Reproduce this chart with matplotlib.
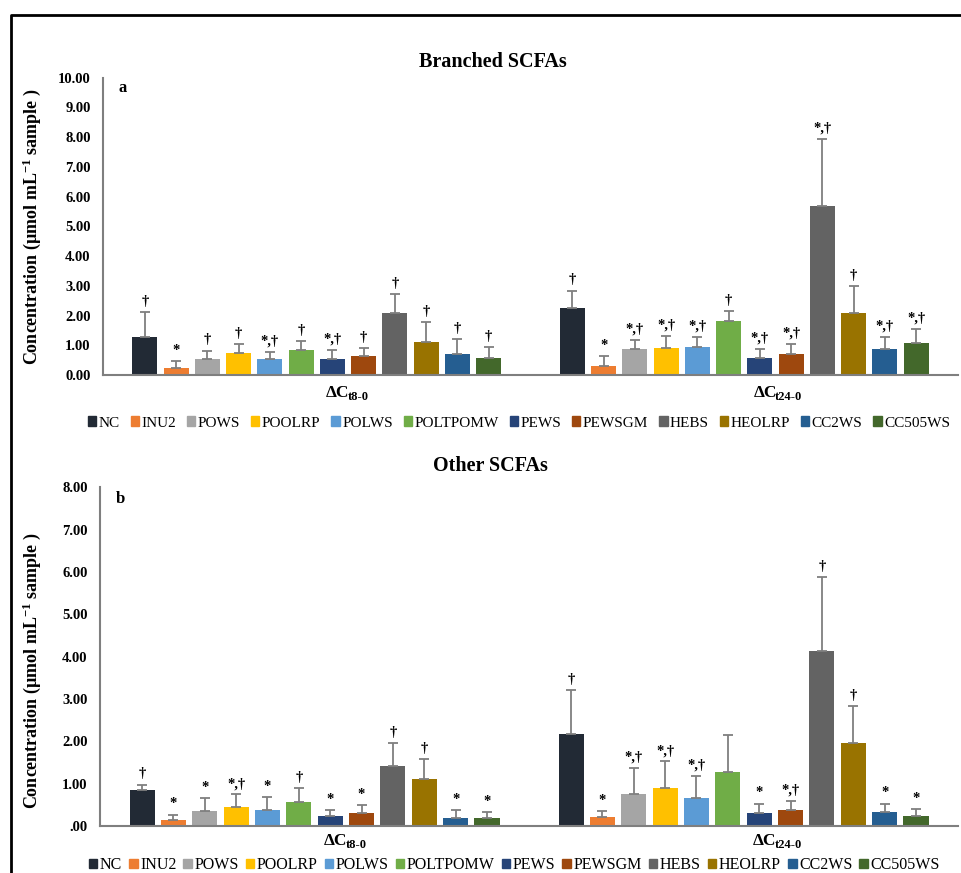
import matplotlib
matplotlib.use('Agg')
import matplotlib.pyplot as plt
from matplotlib.lines import Line2D
from matplotlib.patches import Patch
import numpy as np

plt.rcParams['font.family'] = ['Liberation Serif', 'DejaVu Serif']
plt.rcParams['mathtext.fontset'] = 'custom'
plt.rcParams['mathtext.rm'] = 'Liberation Serif'
plt.rcParams['mathtext.bf'] = 'Liberation Serif:bold'
plt.rcParams['mathtext.it'] = 'Liberation Serif:italic'

groups = ['NC', 'INU2', 'POWS', 'POOLRP', 'POLWS', 'POLTPOMW',
          'PEWS', 'PEWSGM', 'HEBS', 'HEOLRP', 'CC2WS', 'CC505WS']
colors = ['#222A35', '#ED7D31', '#A5A5A5', '#FFC000', '#5B9BD5', '#70AD47',
          '#264478', '#9E480E', '#636363', '#997300', '#255E91', '#43682B']
times = ['t8-0', 't24-0']

# panel a: branched SCFAs (mean, upper error end)
a_t8 = [1.27, 0.22, 0.53, 0.73, 0.55, 0.84, 0.53, 0.63, 2.10, 1.12, 0.71, 0.57]
a_t8_top = [2.13, 0.48, 0.82, 1.03, 0.78, 1.13, 0.84, 0.92, 2.71, 1.78, 1.21, 0.93]
a_t24 = [2.24, 0.30, 0.87, 0.90, 0.95, 1.82, 0.56, 0.71, 5.70, 2.10, 0.87, 1.09]
a_t24_top = [2.84, 0.63, 1.18, 1.31, 1.29, 2.16, 0.87, 1.05, 7.94, 2.99, 1.29, 1.56]
a_t8_sig = ['†', '*', '†', '†', '*,†', '†', '*,†', '†', '†', '†', '†', '†']
a_t24_sig = ['†', '*', '*,†', '*,†', '*,†', '†', '*,†', '*,†', '*,†', '†', '*,†', '*,†']

# panel b: other SCFAs
b_t8 = [0.84, 0.14, 0.35, 0.45, 0.38, 0.57, 0.23, 0.31, 1.41, 1.10, 0.20, 0.19]
b_t8_top = [0.98, 0.27, 0.66, 0.75, 0.68, 0.90, 0.37, 0.50, 1.95, 1.59, 0.37, 0.32]
b_t24 = [2.18, 0.22, 0.75, 0.90, 0.67, 1.27, 0.31, 0.37, 4.13, 1.95, 0.32, 0.24]
b_t24_top = [3.22, 0.36, 1.38, 1.53, 1.18, 2.14, 0.53, 0.59, 5.88, 2.84, 0.53, 0.40]
b_t8_sig = ['†', '*', '*', '*,†', '*', '†', '*', '*', '†', '†', '*', '*']
b_t24_sig = ['†', '*', '*,†', '*,†', '*,†', '', '*', '*,†', '†', '†', '*', '*']

fig = plt.figure(figsize=(9.61, 8.73), dpi=100)

slot, bw = 0.0731, 0.0585


def panel(ax, means, tops, sigs, ymax, letter, zero_lbl, cat_off, leg_fs, leg_sp, leg_x, leg_y):
    for c in range(2):
        m = np.array(means[c])
        sd = np.array(tops[c]) - m
        for i in range(12):
            x = c + (i - 5.5) * slot
            ax.bar(x, m[i], bw, color=colors[i], zorder=2)
            ax.errorbar(x, m[i], yerr=[[0], [sd[i]]], color='#7F7F7F', lw=1.3,
                        capsize=3.5, capthick=1.3, zorder=3)
            if sigs[c][i]:
                ax.annotate(sigs[c][i], (x, tops[c][i]), xytext=(0, 3),
                            textcoords='offset points', ha='center', va='bottom',
                            fontsize=10.5, fontweight='bold')
        ax.annotate('ΔC', (c + 0.077, 0), xytext=(0, -cat_off), textcoords='offset points',
                    ha='right', va='baseline', fontsize=12.5, fontweight='bold',
                    annotation_clip=False)
        ax.annotate(times[c], (c + 0.077, 0), xytext=(-1.5, -cat_off - 2.5),
                    textcoords='offset points', ha='left', va='baseline',
                    fontsize=9, fontweight='bold', annotation_clip=False)
    ax.set_xlim(-0.5, 1.5)
    ax.set_ylim(0, ymax)
    ax.set_xticks([])
    yt = np.arange(0, ymax + 0.5, 1.0)
    ax.set_yticks(yt)
    ax.set_yticklabels([zero_lbl] + ['%.2f' % v for v in yt[1:]],
                       fontweight='bold', fontsize=10.5)
    ax.tick_params(axis='y', length=0, pad=9)
    for s in ['top', 'right']:
        ax.spines[s].set_visible(False)
    for s in ['left', 'bottom']:
        ax.spines[s].set_color('#7F7F7F')
        ax.spines[s].set_linewidth(1.5)
    ax.text(0.018, 0.965, letter, transform=ax.transAxes, fontsize=12,
            fontweight='bold', va='center')
    ax.set_ylabel('Concentration (µmol mL$^{\\mathbf{-1}}$ sample )',
                  fontsize=13, fontweight='bold')
    handles = [Patch(color=colors[i], label=groups[i]) for i in range(12)]
    fig.legend(handles=handles, loc='center', bbox_to_anchor=(leg_x, leg_y), ncol=12,
               frameon=False, fontsize=leg_fs, handlelength=0.55, handleheight=0.55,
               handletextpad=0.15, columnspacing=leg_sp, borderaxespad=0)
    return ax


ax1 = fig.add_axes([0.1072, 0.5704, 0.8897, 0.3406])
panel(ax1, [a_t8, a_t24], [a_t8_top, a_t24_top], [a_t8_sig, a_t24_sig], 10,
      'a', '0.00', 15.5, 11, 0.72, 0.540, 1 - 423 / 873)
ax1.yaxis.set_label_coords(-0.070, 0.5)

ax2 = fig.add_axes([0.1041, 0.0538, 0.8928, 0.388])
panel(ax2, [b_t8, b_t24], [b_t8_top, b_t24_top], [b_t8_sig, b_t24_sig], 8,
      'b', '.00', 13.5, 11.5, 0.43, 0.535, 1 - 865 / 873)
ax2.yaxis.set_label_coords(-0.067, 0.46)

fig.text(493 / 961, 1 - 62 / 873, 'Branched SCFAs', ha='center', va='center',
         fontsize=14.5, fontweight='bold')
fig.text(490 / 961, 1 - 466 / 873, 'Other SCFAs', ha='center', va='center',
         fontsize=14.5, fontweight='bold')

# outer frame (top and left edges only)
fig.add_artist(Line2D([11 / 961, 11 / 961, 1], [0, 1 - 15 / 873, 1 - 15 / 873],
                      color='black', lw=2, transform=fig.transFigure))

fig.savefig('out.png', dpi=100)
